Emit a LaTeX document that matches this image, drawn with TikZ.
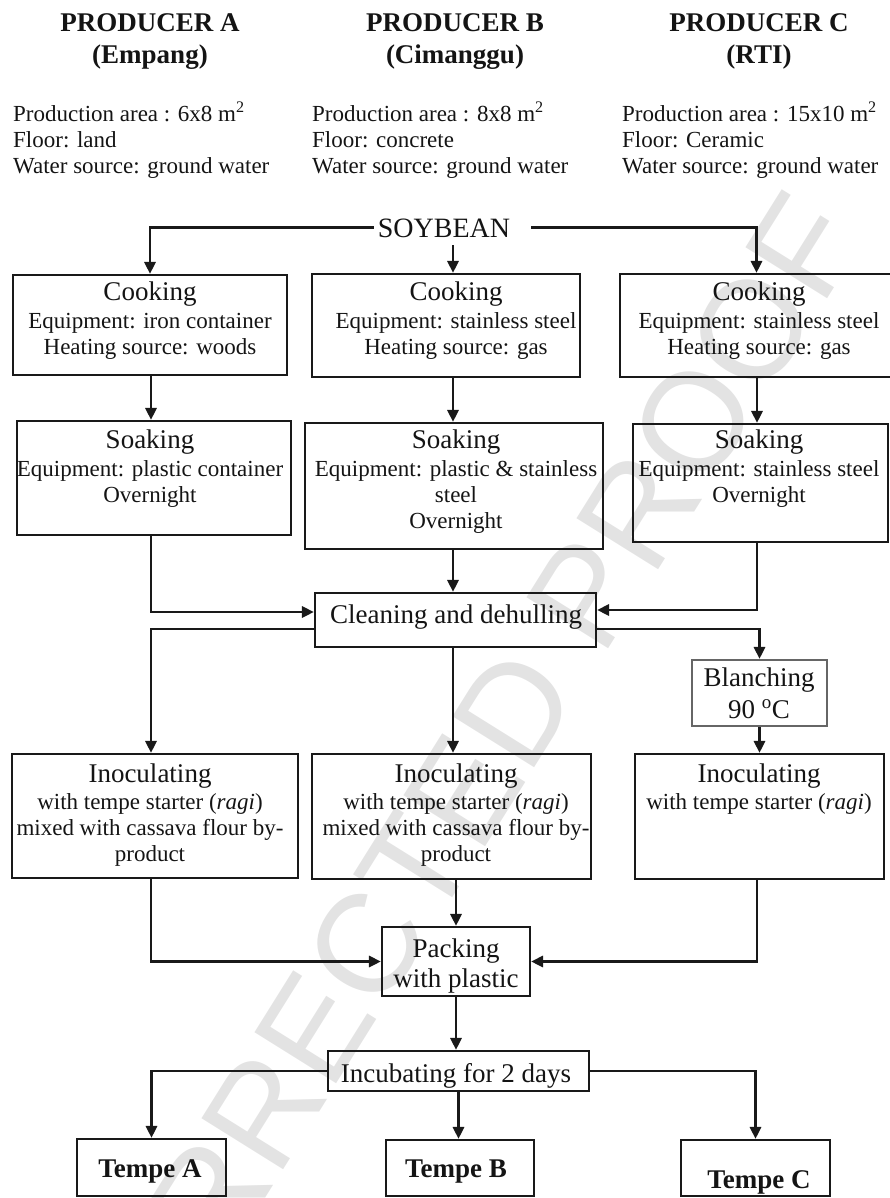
\documentclass[tikz,border=0pt]{standalone}
\usepackage{fontspec}
\setmainfont{Liberation Serif}
\newfontfamily\wmfont{Liberation Sans}
\usetikzlibrary{arrows.meta,calc}
\newcommand\ttl{\fontsize{27}{30}\selectfont}
\newcommand\bdy{\fontsize{23}{26}\selectfont}
\newcommand\bx[6][]{\node[box,#1,minimum width={(#5-#3)*1pt},minimum height={(#6-#4)*1pt}] (#2) at ({(#3+#5)/2},{(#4+#6)/2}) {};}
\begin{document}
\begin{tikzpicture}[x=1pt,y=-1pt,
  box/.style={draw=black!90,line width=2.1pt,inner sep=0pt},
  arr/.style={draw=black!90,line width=2.9pt,-{Triangle[length=12pt,width=11pt]}},
  txt/.style={anchor=base,inner sep=0pt,text=black!92,align=center},
  txw/.style={txt,anchor=base west,align=left},
  ttx/.style={txt,font=\ttl},
  btx/.style={txt,font=\bdy},
  hdr/.style={txt,font=\ttl\bfseries}]
\useasboundingbox (0,0) rectangle (890,1198);
% watermark
\node[rotate=58,text=black!11,font=\wmfont\fontsize{140}{140}\selectfont,inner sep=0pt] (wm) at (395,900) {UNCORRECTED PROOF};

% headers (base anchor = baseline of last line)
\node[hdr] (hA) at (150,64) {PRODUCER A\\[2pt](Empang)};
\node[hdr] (hB) at (455,64) {PRODUCER B\\[2pt](Cimanggu)};
\node[hdr] (hC) at (759,64) {PRODUCER C\\[2pt](RTI)};

\node[txw,font=\bdy] (iA) at (13,174) {Production area : 6x8 m\textsuperscript{2}\\Floor: land\\Water source: ground water};
\node[txw,font=\bdy] (iB) at (312,174) {Production area : 8x8 m\textsuperscript{2}\\Floor: concrete\\Water source: ground water};
\node[txw,font=\bdy] (iC) at (622,174) {Production area : 15x10 m\textsuperscript{2}\\Floor: Ceramic\\Water source: ground water};

% boxes
\bx{cookA}{13}{275}{287}{375}
\bx{cookB}{312}{274}{580}{377}
\bx{cookC}{620}{274}{893}{377}
\bx{soakA}{17}{421}{291}{535}
\bx{soakB}{305}{423}{603}{549}
\bx{soakC}{633}{424}{888}{542}
\bx{clean}{315}{593}{596}{647}
\bx[draw=black!60]{blanch}{692}{660}{827}{726}
\bx{inocA}{12}{754}{298}{878}
\bx{inocB}{312}{754}{591}{879}
\bx{inocC}{635}{754}{884}{879}
\bx{pack}{382}{927}{530}{996}
\bx{incub}{328}{1051}{589}{1091}
\bx{tempA}{77}{1139}{226}{1196}
\bx{tempB}{386}{1140}{534}{1196}
\bx{tempC}{681}{1140}{830}{1196}

% texts
\node[txt,font=\fontsize{28}{30}\selectfont] (soy) at (444,237) {SOYBEAN};

\node[btx] (tcA) at (150,354) {{\ttl Cooking}\\[2pt]Equipment: iron container\\Heating source: woods};
\node[btx] (tcB) at (456,354) {{\ttl Cooking}\\[2pt]Equipment: stainless steel\\Heating source: gas};
\node[btx] (tcC) at (759,354) {{\ttl Cooking}\\[2pt]Equipment: stainless steel\\Heating source: gas};

\node[btx] (tsA) at (150,502) {{\ttl Soaking}\\[2pt]Equipment: plastic container\\Overnight};
\node[btx] (tsB) at (456,528) {{\ttl Soaking}\\[2pt]Equipment: plastic \& stainless\\steel\\Overnight};
\node[btx] (tsC) at (759,502) {{\ttl Soaking}\\[2pt]Equipment: stainless steel\\Overnight};

\node[ttx] (tcl) at (456,623) {Cleaning and dehulling};
\node[ttx] (tbl) at (759,718) {Blanching\\[2pt]90 \textsuperscript{o}C};

\node[btx] (tiA) at (150,861) {{\ttl Inoculating}\\[1pt]with tempe starter (\textit{ragi})\\mixed with cassava flour by-\\product};
\node[btx] (tiB) at (456,861) {{\ttl Inoculating}\\[1pt]with tempe starter (\textit{ragi})\\mixed with cassava flour by-\\product};
\node[btx] (tiC) at (759,809) {{\ttl Inoculating}\\[1pt]with tempe starter (\textit{ragi})};

\node[ttx] (tp) at (456,987) {Packing\\with plastic};
\node[ttx] (tin) at (456,1082) {Incubating for 2 days};

\node[hdr] (ttA) at (150,1177) {Tempe A};
\node[hdr] (ttB) at (456,1177) {Tempe B};
\node[hdr] (ttC) at (759,1188) {Tempe C};

% columns
\coordinate (cA) at (151,0);
\coordinate (cB) at (453,0);
\coordinate (cC) at (757,0);

% connectors
\draw[arr] ($(soy.west)+(-4,0)$) -| (cookA.north);
\draw[arr] ($(soy.east)+(21,0)$) -| (cookC.north);
\draw[arr] ($(soy.south -| cB)+(0,8)$) -- (cookB.north -| cB);

\draw[arr] (cookA.south -| cA) -- (soakA.north -| cA);
\draw[arr] (cookB.south -| cB) -- (soakB.north -| cB);
\draw[arr] (cookC.south -| cC) -- (soakC.north -| cC);

\draw[arr] (soakA.south -| cA) |- ($(clean.west)+(0,-8)$);
\draw[arr] (soakB.south -| cB) -- (clean.north -| cB);
\draw[arr] (soakC.south -| cC) |- ($(clean.east)+(0,-10)$);

\draw[arr] ($(clean.west)+(0,9)$) -| (inocA.north -| cA);
\draw[arr] (clean.south -| cB) -- (inocB.north -| cB);
\draw[arr] ($(clean.east)+(0,9)$) -| (blanch.north);
\draw[arr] (blanch.south) -- (inocC.north -| blanch.south);

\draw[arr] (inocA.south -| cA) |- (pack.west);
\draw[arr] (inocB.south -| pack.north) -- (pack.north);
\draw[arr] (inocC.south -| cC) |- (pack.east);

\draw[arr] (pack.south) -- (pack.south |- incub.north);
\draw[arr] (incub.west) -| (tempA.north);
\draw[arr] (incub.south) -- (incub.south |- tempB.north);
\draw[arr] (incub.east) -| (tempC.north);
\end{tikzpicture}
\end{document}
